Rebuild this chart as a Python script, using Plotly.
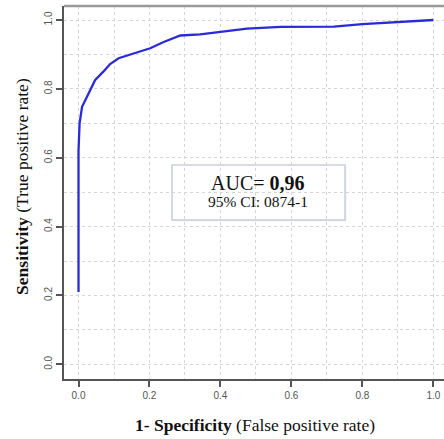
import plotly.graph_objects as go

# ROC curve points
fpr = [0.0, 0.0, 0.003, 0.01, 0.019, 0.047, 0.07, 0.089, 0.113, 0.165, 0.202,
       0.24, 0.287, 0.343, 0.4, 0.475, 0.57, 0.68, 0.72, 0.8, 0.907, 1.0]
tpr = [0.21, 0.62, 0.70, 0.748, 0.767, 0.826, 0.85, 0.872, 0.889, 0.905, 0.918,
       0.936, 0.955, 0.958, 0.965, 0.975, 0.98, 0.98, 0.981, 0.988, 0.995, 1.0]

tick_vals = [0.0, 0.2, 0.4, 0.6, 0.8, 1.0]
tick_text = ["0.0", "0.2", "0.4", "0.6", "0.8", "1.0"]

auc_text = "AUC= <b>0,96</b>"
ci_text = "95% CI: 0874-1"
x_title = "<b>1- Specificity</b> (False positive rate)"
y_title = "<b>Sensitivity</b> (True positive rate)"

serif = "Liberation Serif, Times New Roman, serif"
sans = "Liberation Sans, Arial, sans-serif"

fig = go.Figure()
fig.add_trace(go.Scatter(x=fpr, y=tpr, mode="lines",
                         line=dict(color="#2a2ad6", width=2.3),
                         hoverinfo="skip", showlegend=False))

grid = dict(showgrid=True, gridcolor="#d6d6d6", griddash="dot", gridwidth=1)
fig.update_xaxes(range=[-0.0409, 1.030], tickvals=tick_vals, ticktext=tick_text,
                 ticks="outside", ticklen=6, tickcolor="#555", tickwidth=1.5,
                 showline=True, linecolor="#555", linewidth=1.5, zeroline=False,
                 tickfont=dict(family=sans, size=10, color="#555"),
                 minor=dict(dtick=0.1, tick0=0, showgrid=True, gridcolor="#d6d6d6",
                            griddash="dot", ticks=""),
                 **grid)
fig.update_yaxes(range=[-0.0427, 1.0407], tickvals=tick_vals, ticktext=tick_text,
                 ticks="outside", ticklen=6, tickcolor="#555", tickwidth=1.5,
                 showline=True, linecolor="#555", linewidth=1.5, zeroline=False,
                 tickangle=-90,
                 tickfont=dict(family=sans, size=10, color="#555"),
                 minor=dict(dtick=0.1, tick0=0, showgrid=True, gridcolor="#d6d6d6",
                            griddash="dot", ticks=""),
                 **grid)

# top border
fig.add_shape(type="line", xref="paper", yref="paper", x0=0, x1=1, y0=1, y1=1,
              line=dict(color="#9a9a9a", width=2.5))

# AUC box (shadow + box)
fig.add_shape(type="rect", x0=0.2665, x1=0.7545, y0=0.4155, y1=0.576,
              line=dict(width=0), fillcolor="#e4e6ec", layer="below")
fig.add_shape(type="rect", x0=0.2635, x1=0.751, y0=0.419, y1=0.579,
              line=dict(color="#c9ceda", width=1.5), fillcolor="white", layer="below")

fig.add_annotation(x=0.507, y=0.5266, text=auc_text, showarrow=False,
                   font=dict(family=serif, size=20, color="#111"))
fig.add_annotation(x=0.507, y=0.472, text=ci_text, showarrow=False,
                   font=dict(family=serif, size=15.5, color="#111"))

fig.add_annotation(xref="paper", yref="paper", x=0.503, y=-0.123, text=x_title,
                   showarrow=False, xanchor="center", yanchor="middle",
                   font=dict(family=serif, size=17.5, color="#111"))
fig.add_annotation(xref="paper", yref="paper", x=-0.1105, y=0.515, text=y_title,
                   showarrow=False, xanchor="center", yanchor="middle", textangle=-90,
                   font=dict(family=serif, size=17.5, color="#111"))

fig.update_layout(width=444, height=439, margin=dict(l=64, r=0, t=6, b=60),
                  plot_bgcolor="white", paper_bgcolor="white", showlegend=False)

fig.write_html("out.html", config={"displayModeBar": False},
               post_script="document.body.style.margin='0';document.body.style.overflow='hidden';")
